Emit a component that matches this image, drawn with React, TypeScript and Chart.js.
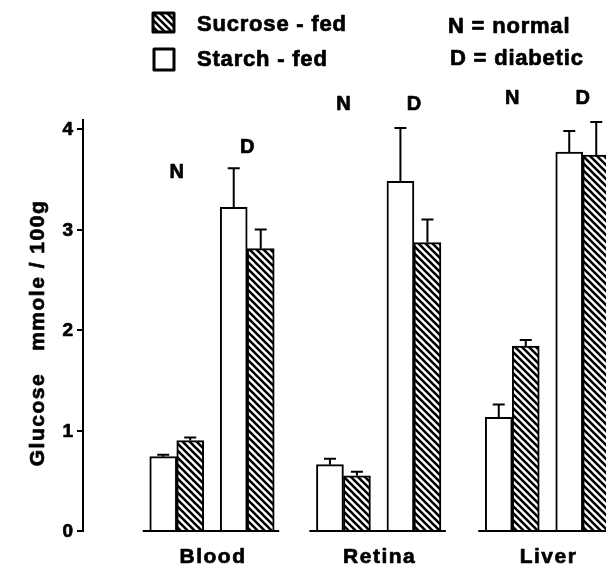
import React, { useEffect, useRef } from 'react';
import { Chart, registerables } from 'chart.js';

Chart.register(...registerables);

// ---- data ----
const categories = ['Blood', 'Retina', 'Liver'];
const groupLabels = ['N', 'D'];
const yTicks = [0, 1, 2, 3, 4];
const starchNormal = [0.74, 0.66, 1.13];
const starchNormalErr = [0.02, 0.06, 0.13];
const sucroseNormal = [0.9, 0.55, 1.84];
const sucroseNormalErr = [0.03, 0.04, 0.06];
const starchDiabetic = [3.22, 3.48, 3.77];
const starchDiabeticErr = [0.39, 0.53, 0.21];
const sucroseDiabetic = [2.81, 2.87, 3.74];
const sucroseDiabeticErr = [0.19, 0.23, 0.33];
// category centres on the (hidden) linear x axis, N group at -0.5, D group at +0.5
const categoryX = [1.83, 4.195, 6.59];
// heights (in y units) of the N / D group labels
const nLabelY = [3.57, 4.24, 4.3];
const dLabelY = [3.82, 4.24, 4.3];

const FONT = '"Liberation Sans", Arial, Helvetica, sans-serif';

const pairs = (normal: number[], diabetic: number[]) =>
  categories.flatMap((_, i) => [
    { x: categoryX[i] - 0.5, y: normal[i] },
    { x: categoryX[i] + 0.5, y: diabetic[i] },
  ]);
const errPairs = (normal: number[], diabetic: number[]) =>
  categories.flatMap((_, i) => [normal[i], diabetic[i]]);

function makeHatch(ctx: CanvasRenderingContext2D) {
  const s = 7;
  const c = document.createElement('canvas');
  c.width = s;
  c.height = s;
  const g = c.getContext('2d')!;
  g.fillStyle = '#fff';
  g.fillRect(0, 0, s, s);
  g.strokeStyle = '#000';
  g.lineWidth = 2.6;
  g.beginPath();
  g.moveTo(-1, -1);
  g.lineTo(s + 1, s + 1);
  g.moveTo(-1, s - 1);
  g.lineTo(1, s + 1);
  g.moveTo(s - 1, -1);
  g.lineTo(s + 1, 1);
  g.stroke();
  return ctx.createPattern(c, 'repeat')!;
}

function heavyText(c: CanvasRenderingContext2D, text: string, x: number, y: number) {
  c.fillText(text, x, y);
  c.strokeText(text, x, y);
}

export default function App() {
  const canvasRef = useRef<HTMLCanvasElement | null>(null);

  useEffect(() => {
    document.body.style.margin = '0';
    const canvas = canvasRef.current!;
    const ctx = canvas.getContext('2d')!;
    const hatch = makeHatch(ctx);

    const errors = [
      errPairs(starchNormalErr, starchDiabeticErr),
      errPairs(sucroseNormalErr, sucroseDiabeticErr),
    ];

    const decor = {
      id: 'decor',
      afterDatasetsDraw(chart: any) {
        const c = chart.ctx as CanvasRenderingContext2D;
        const xs = chart.scales.x;
        const ys = chart.scales.y;
        c.save();
        c.strokeStyle = '#000';
        c.fillStyle = '#000';
        c.lineWidth = 2;
        // error bars
        chart.data.datasets.forEach((ds: any, d: number) => {
          const meta = chart.getDatasetMeta(d);
          meta.data.forEach((bar: any, j: number) => {
            const v = ds.data[j].y;
            const top = ys.getPixelForValue(v + errors[d][j]);
            c.beginPath();
            c.moveTo(bar.x, bar.y);
            c.lineTo(bar.x, top);
            c.moveTo(bar.x - 6, top);
            c.lineTo(bar.x + 6, top);
            c.stroke();
          });
        });
        // baseline segments per category
        const m0 = chart.getDatasetMeta(0);
        const m1 = chart.getDatasetMeta(1);
        const y0 = ys.getPixelForValue(0);
        categories.forEach((_, i) => {
          const a = m0.data[2 * i];
          const b = m1.data[2 * i + 1];
          c.beginPath();
          c.moveTo(a.x - a.width / 2 - 7, y0);
          c.lineTo(b.x + b.width / 2 + 5, y0);
          c.stroke();
        });
        c.lineWidth = 0.7;
        c.lineJoin = 'round';
        // y tick labels
        c.font = `bold 19px ${FONT}`;
        c.textAlign = 'right';
        c.textBaseline = 'middle';
        yTicks.forEach((v) => heavyText(c, String(v), 73, ys.getPixelForValue(v) + 1));
        // N / D labels
        c.font = `bold 20px ${FONT}`;
        c.textAlign = 'center';
        categories.forEach((_, i) => {
          heavyText(c, groupLabels[0], xs.getPixelForValue(categoryX[i] - 0.5), ys.getPixelForValue(nLabelY[i]));
          heavyText(c, groupLabels[1], xs.getPixelForValue(categoryX[i] + 0.5), ys.getPixelForValue(dLabelY[i]));
        });
        // category labels
        (c as any).letterSpacing = '1.5px';
        c.font = `bold 21px ${FONT}`;
        categories.forEach((name, i) => {
          heavyText(c, name, xs.getPixelForValue(categoryX[i]) + 1, 557);
        });
        // y title
        c.save();
        (c as any).letterSpacing = '1.5px';
        c.font = `bold 21px ${FONT}`;
        c.translate(38, 333);
        c.rotate(-Math.PI / 2);
        heavyText(c, 'Glucose   mmole / 100g', 0, 0);
        c.restore();
        // legend
        (c as any).letterSpacing = '0.8px';
        c.font = `bold 22px ${FONT}`;
        c.textAlign = 'left';
        c.lineWidth = 3;
        c.fillStyle = hatch;
        c.fillRect(153, 13, 21, 19);
        c.strokeRect(153, 13, 21, 19);
        c.fillStyle = '#fff';
        c.fillRect(154, 49, 20, 21);
        c.strokeRect(154, 49, 20, 21);
        c.fillStyle = '#000';
        c.lineWidth = 0.7;
        heavyText(c, 'Sucrose - fed', 197, 25);
        heavyText(c, 'Starch - fed', 197, 60);
        heavyText(c, 'N = normal', 448, 27);
        heavyText(c, 'D = diabetic', 450, 59);
        c.restore();
      },
    };

    const chart = new Chart(canvas, {
      type: 'bar',
      data: {
        datasets: [
          {
            label: 'Starch-fed',
            data: pairs(starchNormal, starchDiabetic) as any,
            backgroundColor: '#fff',
            borderColor: '#000',
            borderWidth: 2,
            barThickness: 27,
          },
          {
            label: 'Sucrose-fed',
            data: pairs(sucroseNormal, sucroseDiabetic) as any,
            backgroundColor: hatch as any,
            borderColor: '#000',
            borderWidth: 2,
            barThickness: 27,
          },
        ],
      },
      options: {
        animation: false,
        responsive: false,
        maintainAspectRatio: false,
        layout: { padding: { top: 120, bottom: 35, left: 0, right: 0 } },
        plugins: { legend: { display: false }, tooltip: { enabled: false } },
        scales: {
          x: { type: 'linear', display: false, min: 0, max: 7.42, offset: false },
          y: {
            min: 0,
            max: 4.09,
            afterFit: (s: any) => {
              s.width = 83;
            },
            afterBuildTicks: (s: any) => {
              s.ticks = yTicks.map((v) => ({ value: v }));
            },
            grid: { drawOnChartArea: false, drawTicks: true, tickLength: 6, color: '#000', lineWidth: 2 },
            border: { display: true, color: '#000', width: 2 },
            ticks: { display: false },
          },
        },
      },
      plugins: [decor],
    });

    return () => chart.destroy();
  }, []);

  return <canvas ref={canvasRef} width={606} height={566} style={{ display: 'block' }} />;
}
